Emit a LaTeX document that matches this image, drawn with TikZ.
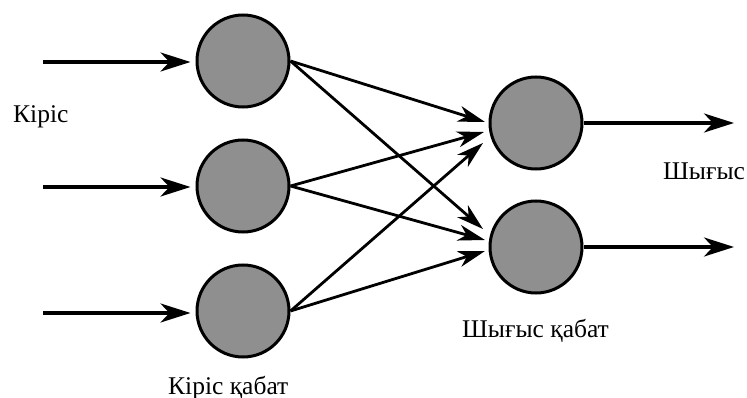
\documentclass[tikz,border=0pt]{standalone}
\usepackage{fontspec}
\setmainfont{Liberation Serif}
\usetikzlibrary{arrows.meta,calc}
\definecolor{neurfill}{RGB}{143,143,143}
\begin{document}
\begin{tikzpicture}[x=1pt,y=-1pt,
  neuron/.style={circle,draw=black,fill=neurfill,line width=3pt,minimum size=92pt,inner sep=0pt},
  bigarrow/.style={line width=3.4pt,-{Stealth[length=30pt,width=19pt,inset=9pt]}},
  link/.style={line width=2.8pt,-{Stealth[length=27pt,width=16pt,inset=8pt]}},
  lbl/.style={anchor=base west,inner sep=0pt,font=\fontsize{25.5}{28}\selectfont}]
\useasboundingbox (0,0) rectangle (747,398);
\node[neuron] (i1) at (243,61) {};
\node[neuron] (i2) at (243,186) {};
\node[neuron] (i3) at (243,311) {};
\node[neuron] (o1) at (536,123) {};
\node[neuron] (o2) at (536,247) {};
\coordinate (s1) at (43,62);
\coordinate (s2) at (43,187);
\coordinate (s3) at (43,313);
\coordinate (e1) at (734,123);
\coordinate (e2) at (734,247);
\draw[bigarrow] (s1) -- ($(s1 -| i1.west)+(-5,0)$);
\draw[bigarrow] (s2) -- ($(s2 -| i2.west)+(-5,0)$);
\draw[bigarrow] (s3) -- ($(s3 -| i3.west)+(-5,0)$);
\draw[bigarrow] (o1.east) -- (e1);
\draw[bigarrow] (o2.east) -- (e2);
\draw[link] (i1.east) -- (485,122);
\draw[link] (i2.east) -- (484,132);
\draw[link] (i3.east) -- (483,143);
\draw[link] (i1.east) -- (483,229);
\draw[link] (i2.east) -- (485,240);
\draw[link] (i3.east) -- (485,251);
\node[lbl] (t1) at (13,123) {Кіріс};
\node[lbl] (t2) at (168,394) {Кіріс қабат};
\node[lbl] (t3) at (663,180) {Шығыс};
\node[lbl] (t4) at (462,337) {Шығыс қабат};
\end{tikzpicture}
\end{document}
